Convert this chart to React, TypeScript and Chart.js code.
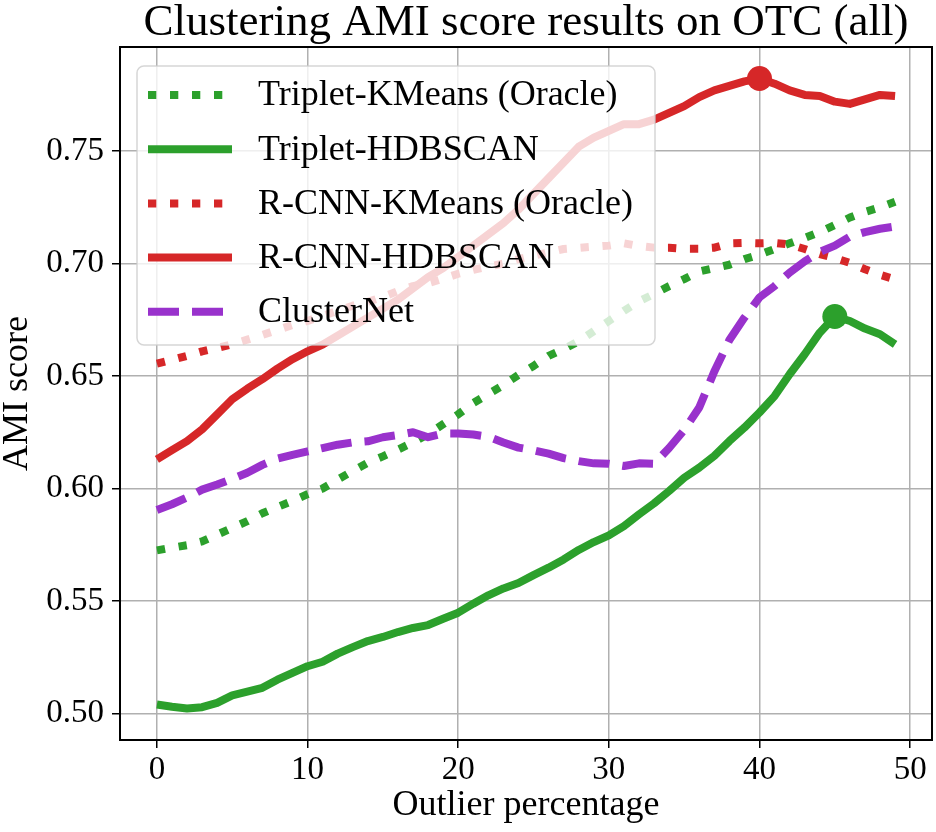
import React, { useEffect, useRef } from "react";
import { Chart, registerables } from "chart.js";

Chart.register(...registerables);

const TITLE = "Clustering AMI score results on OTC (all)";
const X_LABEL = "Outlier percentage";
const Y_LABEL = "AMI score";

const outlierPct = [
  0, 1, 2, 3, 4, 5, 6, 7, 8, 9, 10, 11, 12, 13, 14, 15, 16, 17, 18, 19, 20, 21, 22, 23, 24,
  25, 26, 27, 28, 29, 30, 31, 32, 33, 34, 35, 36, 37, 38, 39, 40, 41, 42, 43, 44, 45, 46, 47, 48, 49,
];

const tripletKMeans = [
  0.5725, 0.5737, 0.5748, 0.5765, 0.5795, 0.5825, 0.5855, 0.589, 0.5918, 0.5945,
  0.5975, 0.6, 0.604, 0.6078, 0.6115, 0.6143, 0.6173, 0.6205, 0.6242, 0.6286,
  0.633, 0.638, 0.642, 0.646, 0.6505, 0.6545, 0.659, 0.662, 0.6655, 0.67,
  0.6745, 0.679, 0.6832, 0.6865, 0.69, 0.6931, 0.6965, 0.698, 0.6995, 0.702,
  0.704, 0.7065, 0.709, 0.7114, 0.714, 0.7172, 0.7205, 0.723, 0.725, 0.7275,
];

const tripletHDBSCAN = [
  0.504, 0.503, 0.5022, 0.5028, 0.5047, 0.508, 0.5097, 0.5114, 0.515, 0.518,
  0.521, 0.523, 0.5266, 0.5295, 0.5322, 0.534, 0.5362, 0.538, 0.5393, 0.5421,
  0.5448, 0.5488, 0.5525, 0.5556, 0.558, 0.5615, 0.5648, 0.5685, 0.5727, 0.5762,
  0.5792, 0.5833, 0.5885, 0.5934, 0.5989, 0.6048, 0.6093, 0.6145, 0.6211, 0.6271,
  0.6338, 0.6411, 0.6508, 0.6597, 0.6693, 0.6765, 0.6745, 0.6711, 0.6686, 0.6641,
];

const rcnnKMeans = [
  0.6555, 0.6572, 0.659, 0.661, 0.6625, 0.6642, 0.6662, 0.6683, 0.6705, 0.6727,
  0.6745, 0.6768, 0.679, 0.6813, 0.683, 0.6852, 0.6878, 0.69, 0.6913, 0.6933,
  0.6955, 0.6972, 0.6987, 0.7, 0.702, 0.7035, 0.705, 0.7065, 0.707, 0.7075,
  0.708, 0.709, 0.7078, 0.7071, 0.7071, 0.7066, 0.7066, 0.7071, 0.709, 0.7092,
  0.709, 0.7092, 0.7085, 0.7065, 0.7042, 0.7025, 0.7003, 0.6975, 0.695, 0.693,
];

const rcnnHDBSCAN = [
  0.613, 0.6171, 0.6211, 0.6263, 0.633, 0.6397, 0.6444, 0.6486, 0.6533, 0.6575,
  0.661, 0.664, 0.668, 0.672, 0.676, 0.68, 0.684, 0.689, 0.694, 0.698,
  0.703, 0.708, 0.713, 0.718, 0.724, 0.731, 0.738, 0.745, 0.752, 0.756,
  0.759, 0.762, 0.762, 0.764, 0.767, 0.77, 0.774, 0.777, 0.779, 0.781,
  0.7823, 0.78, 0.777, 0.775, 0.7745, 0.772, 0.771, 0.773, 0.775, 0.7745,
];

const clusterNet = [
  0.5905, 0.593, 0.596, 0.5995, 0.6018, 0.6043, 0.607, 0.6105, 0.6133, 0.615,
  0.6165, 0.618, 0.6195, 0.6205, 0.621, 0.6228, 0.6238, 0.625, 0.6228, 0.6245,
  0.6245, 0.624, 0.623, 0.6205, 0.6182, 0.617, 0.6155, 0.6135, 0.6122, 0.6112,
  0.611, 0.61, 0.6112, 0.611, 0.618, 0.626, 0.636, 0.652, 0.666, 0.676,
  0.685, 0.69, 0.696, 0.701, 0.7052, 0.708, 0.712, 0.714, 0.7155, 0.7165,
];

const xTicks = [0, 10, 20, 30, 40, 50];
const yTicks = [0.5, 0.55, 0.6, 0.65, 0.7, 0.75];

const GREEN = "#2ca02c";
const RED = "#d62728";
const PURPLE = "#9932cc";
const FONT = "'Liberation Serif', 'DejaVu Serif', serif";

const LW = 8;
const DOT = [8.3, 13.7];
const DASH = [31, 13];

type Series = {
  label: string;
  data: number[];
  color: string;
  dash: number[];
  marker: boolean;
};

const series: Series[] = [
  { label: "Triplet-KMeans (Oracle)", data: tripletKMeans, color: GREEN, dash: DOT, marker: false },
  { label: "Triplet-HDBSCAN", data: tripletHDBSCAN, color: GREEN, dash: [], marker: true },
  { label: "R-CNN-KMeans (Oracle)", data: rcnnKMeans, color: RED, dash: DOT, marker: false },
  { label: "R-CNN-HDBSCAN", data: rcnnHDBSCAN, color: RED, dash: [], marker: true },
  { label: "ClusterNet", data: clusterNet, color: PURPLE, dash: DASH, marker: false },
];

function argmax(a: number[]) {
  let k = 0;
  for (let i = 1; i < a.length; i++) if (a[i] > a[k]) k = i;
  return k;
}

export default function App() {
  const ref = useRef<HTMLCanvasElement>(null);

  useEffect(() => {
    if (!ref.current) return;

    const all = series.flatMap((s) => s.data);
    const yMinD = Math.min(...all);
    const yMaxD = Math.max(...all);
    const yr = yMaxD - yMinD;
    const xMinD = outlierPct[0];
    const xMaxD = outlierPct[outlierPct.length - 1];
    const xr = xMaxD - xMinD;

    const titlePlugin = {
      id: "mplTitle",
      afterDraw(chart: any) {
        const { ctx, chartArea } = chart;
        ctx.save();
        ctx.fillStyle = "#000";
        ctx.font = `45px ${FONT}`;
        ctx.textAlign = "center";
        ctx.textBaseline = "alphabetic";
        ctx.fillText(TITLE, (chartArea.left + chartArea.right) / 2, 35);
        ctx.restore();
      },
    };

    const frameLegendPlugin = {
      id: "frameLegend",
      afterDatasetsDraw(chart: any) {
        const { ctx, chartArea } = chart;
        ctx.save();
        // spines
        ctx.strokeStyle = "#000";
        ctx.lineWidth = 2;
        ctx.strokeRect(chartArea.left, chartArea.top, chartArea.right - chartArea.left, chartArea.bottom - chartArea.top);

        // legend
        const bx = chartArea.left + 17;
        const by = chartArea.top + 19;
        const bw = 518;
        const bh = 279;
        const r = 7;
        ctx.beginPath();
        ctx.moveTo(bx + r, by);
        ctx.lineTo(bx + bw - r, by);
        ctx.arcTo(bx + bw, by, bx + bw, by + r, r);
        ctx.lineTo(bx + bw, by + bh - r);
        ctx.arcTo(bx + bw, by + bh, bx + bw - r, by + bh, r);
        ctx.lineTo(bx + r, by + bh);
        ctx.arcTo(bx, by + bh, bx, by + bh - r, r);
        ctx.lineTo(bx, by + r);
        ctx.arcTo(bx, by, bx + r, by, r);
        ctx.closePath();
        ctx.fillStyle = "rgba(255,255,255,0.8)";
        ctx.fill();
        ctx.strokeStyle = "rgba(204,204,204,0.8)";
        ctx.lineWidth = 1.5;
        ctx.stroke();

        const x0 = bx + 11;
        const x1 = bx + 95;
        const tx = bx + 121;
        const y0 = by + 29;
        const step = 54.2;
        series.forEach((s, i) => {
          const y = y0 + i * step;
          ctx.beginPath();
          ctx.setLineDash(s.dash);
          ctx.lineCap = "butt";
          ctx.strokeStyle = s.color;
          ctx.lineWidth = LW;
          ctx.moveTo(x0, y);
          ctx.lineTo(x1, y);
          ctx.stroke();
          ctx.setLineDash([]);
          ctx.fillStyle = "#000";
          ctx.font = `36px ${FONT}`;
          ctx.textAlign = "left";
          ctx.textBaseline = "middle";
          ctx.fillText(s.label, tx, y + 1);
        });
        ctx.restore();
      },
    };

    const datasets = series.map((s, i) => {
      const mi = argmax(s.data);
      return {
        label: s.label,
        data: s.data.map((v, j) => ({ x: outlierPct[j], y: v })),
        borderColor: s.color,
        backgroundColor: s.color,
        borderWidth: LW,
        borderDash: s.dash,
        borderCapStyle: "butt" as const,
        borderJoinStyle: "round" as const,
        tension: 0,
        fill: false,
        pointRadius: s.data.map((_, j) => (s.marker && j === mi ? 12.5 : 0)),
        pointHoverRadius: 0,
        pointBorderWidth: 0,
        pointBackgroundColor: s.color,
        order: series.length - i,
      };
    });

    const chart = new Chart(ref.current, {
      type: "line",
      data: { datasets },
      options: {
        animation: false,
        responsive: true,
        maintainAspectRatio: false,
        devicePixelRatio: 1,
        events: [],
        layout: { padding: { top: 47, right: 4, left: 0, bottom: 0 } },
        plugins: {
          legend: { display: false },
          tooltip: { enabled: false },
          title: { display: false },
        },
        scales: {
          x: {
            type: "linear",
            min: xMinD - 0.05 * xr,
            max: xMaxD + 0.05 * xr,
            afterFit(scale: any) {
              scale.height = 92;
            },
            afterBuildTicks(scale: any) {
              scale.ticks = xTicks.map((v) => ({ value: v }));
            },
            border: { display: false },
            grid: {
              color: "#b0b0b0",
              lineWidth: 1.5,
              tickLength: 8,
              tickColor: "#000",
              tickWidth: 1.5,
            },
            ticks: {
              color: "#000",
              font: { family: FONT, size: 33 },
              padding: 3,
              maxRotation: 0,
              autoSkip: false,
              callback: (v: any) => String(v),
            },
            title: {
              display: true,
              text: X_LABEL,
              color: "#000",
              font: { family: FONT, size: 36, lineHeight: 1 },
              padding: { top: 0, bottom: 8 },
            },
          },
          y: {
            type: "linear",
            min: yMinD - 0.05 * yr,
            max: yMaxD + 0.05 * yr,
            afterFit(scale: any) {
              scale.width = 120;
            },
            afterBuildTicks(scale: any) {
              scale.ticks = yTicks.map((v) => ({ value: v }));
            },
            border: { display: false },
            grid: {
              color: "#b0b0b0",
              lineWidth: 1.5,
              tickLength: 8,
              tickColor: "#000",
              tickWidth: 1.5,
            },
            ticks: {
              color: "#000",
              font: { family: FONT, size: 33 },
              padding: 8,
              autoSkip: false,
              callback: (v: any) => Number(v).toFixed(2),
            },
            title: {
              display: true,
              text: Y_LABEL,
              color: "#000",
              font: { family: FONT, size: 36, lineHeight: 1 },
              padding: { top: 0, bottom: 0 },
            },
          },
        },
      },
      plugins: [titlePlugin, frameLegendPlugin],
    });

    return () => chart.destroy();
  }, []);

  return (
    <div style={{ position: "absolute", left: 0, top: 0, width: 936, height: 832, background: "#fff" }}>
      <canvas ref={ref} />
    </div>
  );
}
